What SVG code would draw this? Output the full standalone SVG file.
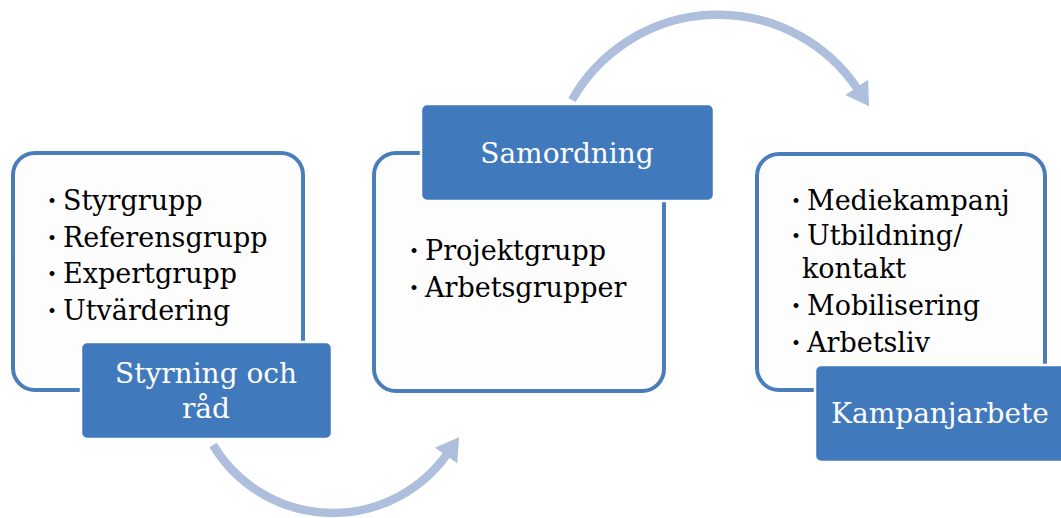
<svg xmlns="http://www.w3.org/2000/svg" width="1061" height="518" viewBox="0 0 1061 518">
<style>
.card{fill:#fdfdfd;stroke:#4a7ebb;stroke-width:4}
.lab{fill:#4179bd;stroke:#ffffff;stroke-width:2.5}
.lt{font-family:"DejaVu Serif",serif;font-size:28px;fill:#ffffff;text-anchor:middle}
.bt{font-family:"DejaVu Serif",serif;font-size:27px;fill:#000000}
.b{font-size:17px}
.arc{fill:none;stroke:#adbfdd;stroke-width:8.5}
</style>
<defs>
<marker id="ah" markerUnits="userSpaceOnUse" markerWidth="30" markerHeight="30" refX="2" refY="12" orient="auto" viewBox="0 0 24 24">
<path d="M0 1 L18 12 L0 23 Z" fill="#adbfdd"/>
</marker>
</defs>
<g id="connectors">
<path class="arc" d="M 572 100 A 168 168 0 0 1 858 89.5" marker-end="url(#ah)"/>
<path class="arc" d="M 213 445 A 140 140 0 0 0 447.5 453.5" marker-end="url(#ah)"/>
</g>
<g id="styrning">
<rect class="card" x="13" y="153" width="290" height="237" rx="22"/>
<text class="bt" y="210"><tspan class="b" x="47" dy="-3">•</tspan><tspan x="63" dy="3">Styrgrupp</tspan></text>
<text class="bt" y="247"><tspan class="b" x="47" dy="-3">•</tspan><tspan x="63" dy="3">Referensgrupp</tspan></text>
<text class="bt" y="283"><tspan class="b" x="47" dy="-3">•</tspan><tspan x="63" dy="3">Expertgrupp</tspan></text>
<text class="bt" y="320"><tspan class="b" x="47" dy="-3">•</tspan><tspan x="63" dy="3">Utvärdering</tspan></text>
<rect class="lab" x="81" y="342" width="251" height="97" rx="6"/>
<text class="lt" x="206" y="383">Styrning och</text>
<text class="lt" x="206" y="418">råd</text>
</g>
<g id="samordning">
<rect class="card" x="374" y="153" width="290" height="238" rx="22"/>
<text class="bt" y="260"><tspan class="b" x="409" dy="-3">•</tspan><tspan x="425" dy="3">Projektgrupp</tspan></text>
<text class="bt" y="297"><tspan class="b" x="409" dy="-3">•</tspan><tspan x="425" dy="3">Arbetsgrupper</tspan></text>
<rect class="lab" x="421" y="104" width="293" height="97" rx="6"/>
<text class="lt" x="567" y="163">Samordning</text>
</g>
<g id="kampanj">
<rect class="card" x="757" y="154" width="288" height="236" rx="22"/>
<text class="bt" y="210"><tspan class="b" x="791" dy="-3">•</tspan><tspan x="807" dy="3">Mediekampanj</tspan></text>
<text class="bt" y="245"><tspan class="b" x="791" dy="-3">•</tspan><tspan x="807" dy="3">Utbildning/</tspan></text>
<text class="bt" x="802" y="278">kontakt</text>
<text class="bt" y="315"><tspan class="b" x="791" dy="-3">•</tspan><tspan x="807" dy="3">Mobilisering</tspan></text>
<text class="bt" y="352"><tspan class="b" x="791" dy="-3">•</tspan><tspan x="807" dy="3">Arbetsliv</tspan></text>
<rect class="lab" x="815" y="365" width="252" height="97" rx="6"/>
<text class="lt" x="940" y="423">Kampanjarbete</text>
</g>
</svg>
